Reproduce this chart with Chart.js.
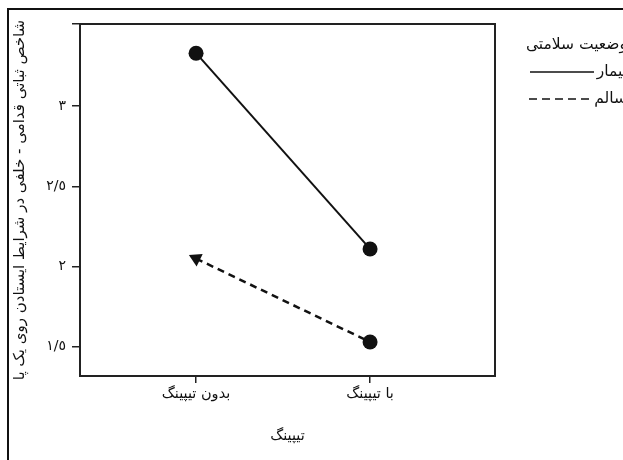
<!DOCTYPE html>
<html lang="fa">
<head>
<meta charset="UTF-8">
<title>تیپینگ</title>
<script src="https://cdn.jsdelivr.net/npm/chart.js"></script>
<style>
  html, body { margin: 0; padding: 0; background: #fff; overflow: hidden; }
  .wrap { position: relative; width: 623px; height: 460px; overflow: hidden; }
  .frame { position: absolute; left: 7px; top: 8px; width: 700px; height: 500px; border: 2px solid #111; pointer-events: none; }
  .legend { position: absolute; right: -4px; top: 33px; direction: rtl; font-family: "DejaVu Sans", sans-serif; font-size: 15.5px; color: #111; }
  .legend div { height: 27px; line-height: 22px; white-space: nowrap; }
  .legend svg { vertical-align: middle; margin-right: 3px; }
</style>
</head>
<body>
<div class="wrap">
  <canvas id="chart" width="623" height="460"></canvas>
  <div class="frame"></div>
  <div class="legend" id="legend"></div>
</div>

<script>
const categories = ['بدون تیپینگ', 'با تیپینگ'];
const seriesNames = ['بیمار', 'سالم'];
const patientValues = [3.33, 2.11];
const healthyValues = [2.05, 1.53];
const yTickValues = [1.5, 2, 2.5, 3];
const yTickLabels = ['١/٥', '٢', '٢/٥', '٣'];
const legendTitle = 'وضعیت سلامتی';
const xTitle = 'تیپینگ';
const yTitle = 'شاخص ثباتی قدامی - خلفی در شرایط ایستادن روی یک پا';

const ink = '#111';
const font = 'DejaVu Sans';

// legend in html, rtl: name first, then line sample
const legendEl = document.getElementById('legend');
legendEl.innerHTML =
  '<div>' + legendTitle + '</div>' +
  '<div>' + seriesNames[0] + '<svg width="64" height="4"><line x1="0" y1="2" x2="64" y2="2" stroke="#111" stroke-width="1.5"/></svg></div>' +
  '<div>' + seriesNames[1] + '<svg width="64" height="4"><line x1="2" y1="2" x2="64" y2="2" stroke="#111" stroke-width="1.5" stroke-dasharray="8 5"/></svg></div>';

const boxPlugin = {
  id: 'box',
  afterDraw(chart) {
    const {ctx, chartArea: a} = chart;
    ctx.save();
    ctx.strokeStyle = '#222';
    ctx.lineWidth = 2;
    ctx.strokeRect(a.left, a.top, a.right - a.left, a.bottom - a.top);
    ctx.restore();
  }
};

const toPoints = vals => vals.map((v, i) => ({x: i, y: v}));

new Chart(document.getElementById('chart'), {
  type: 'line',
  data: {
    datasets: [{
      label: seriesNames[0],
      data: toPoints(patientValues),
      borderColor: ink,
      backgroundColor: ink,
      borderWidth: 2,
      pointStyle: 'circle',
      pointRadius: 7.5,
      pointBorderWidth: 0
    }, {
      label: seriesNames[1],
      data: toPoints(healthyValues),
      borderColor: ink,
      backgroundColor: ink,
      borderWidth: 2.5,
      borderDash: [7, 5],
      pointStyle: ['triangle', 'circle'],
      pointRotation: [-64, 0],
      pointRadius: [8, 7.5],
      pointBorderWidth: 0
    }]
  },
  options: {
    responsive: false,
    animation: false,
    layout: { padding: { top: 24, right: 128, left: 0, bottom: 0 } },
    plugins: {
      legend: { display: false },
      tooltip: { enabled: false }
    },
    scales: {
      x: {
        type: 'linear',
        min: -0.667,
        max: 1.718,
        afterBuildTicks: s => { s.ticks = categories.map((c, i) => ({value: i})); },
        afterFit: s => { s.height = 84; },
        border: { display: false },
        grid: { drawOnChartArea: false, drawTicks: true, tickLength: 7, color: '#222', lineWidth: 1.5 },
        ticks: {
          color: ink,
          padding: 3,
          maxRotation: 0,
          font: { family: font, size: 14.5 },
          callback: v => categories[v]
        },
        title: {
          display: true,
          text: xTitle,
          color: ink,
          font: { family: font, size: 14.5 },
          padding: { top: 0, bottom: 15 }
        }
      },
      y: {
        min: 1.318,
        max: 3.512,
        afterBuildTicks: s => { s.ticks = yTickValues.concat([s.max]).map(v => ({value: v})); },
        afterFit: s => { s.width = 80; },
        border: { display: false },
        grid: { drawOnChartArea: false, drawTicks: true, tickLength: 8, color: '#222', lineWidth: 1.5 },
        ticks: {
          color: ink,
          padding: 6,
          font: { family: font, size: 14 },
          callback: v => {
            const i = yTickValues.indexOf(v);
            return i >= 0 ? yTickLabels[i] : '';
          }
        },
        title: {
          display: true,
          text: yTitle,
          color: ink,
          font: { family: font, size: 15 },
          padding: { top: 11, bottom: 0 }
        }
      }
    }
  },
  plugins: [boxPlugin]
});
</script>
</body>
</html>
